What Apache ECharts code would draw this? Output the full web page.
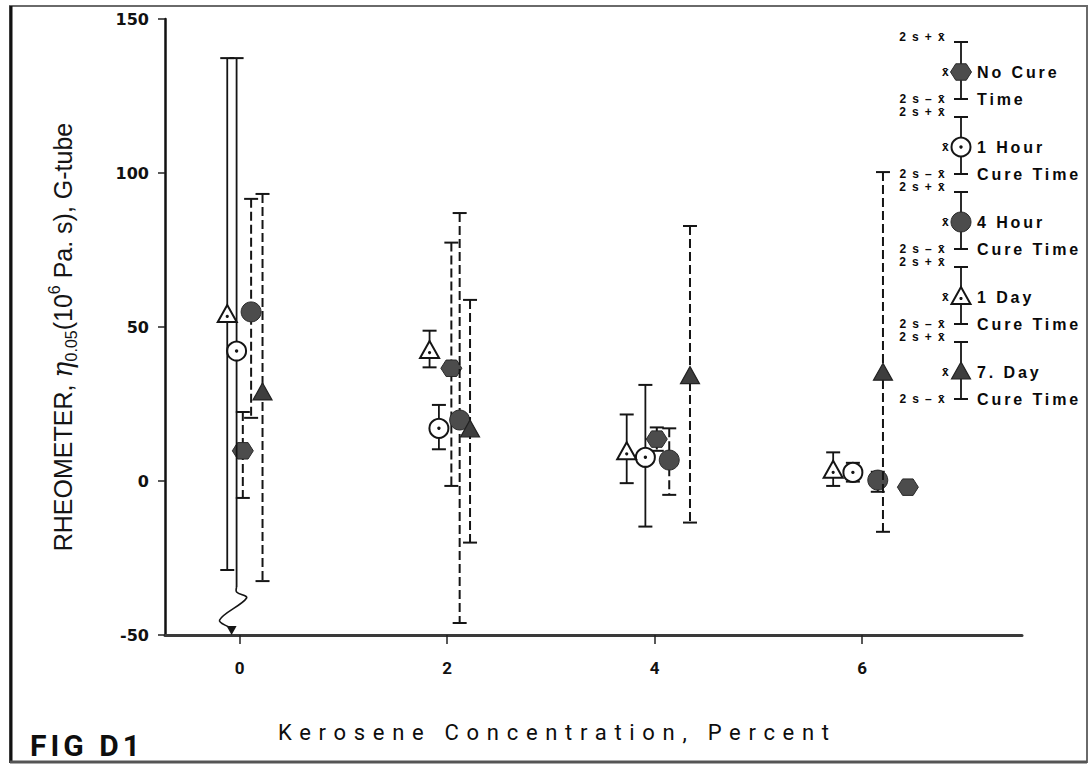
<!DOCTYPE html>
<html>
<head>
<meta charset="utf-8">
<script src="https://cdn.jsdelivr.net/npm/echarts@6/dist/echarts.min.js"></script>
<style>
  html, body { margin: 0; padding: 0; background: #ffffff; }
  #chart { width: 1090px; height: 770px; }
  /* letter spacing for the spaced-out lettering (SVG renderer) */
  #chart text[fill="#0a0a0a"] { letter-spacing: 2.9px; }
  #chart text[fill="#0b0b0b"] { letter-spacing: 1.4px; }
  #chart text[fill="#0d0d0d"] { letter-spacing: 7.7px; }
  #chart text[fill="#0e0e0e"] { letter-spacing: 4px; }
</style>
</head>
<body>
<div id="chart"></div>
<script>
// ---- data: kerosene concentration (%) vs rheometer viscosity, mean and 2s limits ----
const concentrationTicks = [0, 2, 4, 6];

// No Cure Time (filled hexagon)
const noCureX    = [0.03, 2.04, 4.02, 6.44];
const noCureMean = [9.8, 36.6, 13.6, -2.0];
const noCureHigh = [22.4, 77.4, 17.4, -1.4];
const noCureLow  = [-5.5, -1.6, 9.8, -2.6];

// 1 Hour Cure Time (open circle)
const oneHourX    = [-0.03, 1.92, 3.91, 5.91];
const oneHourMean = [42.2, 17.1, 7.7, 2.8];
const oneHourHigh = [137.3, 24.7, 31.2, 5.9];
const oneHourLow  = [-52.9, 10.3, -14.8, -0.2];

// 4 Hour Cure Time (filled circle)
const fourHourX    = [0.11, 2.12, 4.14, 6.15];
const fourHourMean = [54.9, 19.8, 6.8, 0.3];
const fourHourHigh = [91.6, 87.0, 17.1, 3.0];
const fourHourLow  = [20.5, -46.1, -4.5, -3.5];

// 1 Day Cure Time (open triangle)
const oneDayX    = [-0.12, 1.83, 3.73, 5.72];
const oneDayMean = [53.9, 42.2, 9.3, 3.3];
const oneDayHigh = [137.3, 48.8, 21.6, 9.3];
const oneDayLow  = [-28.9, 36.9, -0.7, -1.6];

// 7 Day Cure Time (filled triangle)
const sevenDayX    = [0.22, 2.22, 4.34, 6.20];
const sevenDayMean = [28.6, 16.6, 33.9, 35.0];
const sevenDayHigh = [93.2, 58.8, 82.8, 100.3];
const sevenDayLow  = [-32.5, -20.0, -13.5, -16.5];

const legendNames  = ['No Cure', '1 Hour', '4 Hour', '1 Day', '7. Day'];
const legendSecond = ['Time', 'Cure Time', 'Cure Time', 'Cure Time', 'Cure Time'];

const Y_MIN = -50, Y_MAX = 150;

// ---- marker drawing ----
const INK = '#151515';
const DARK_FILL = '#4c4c4c';

function markerEls(kind, cx, cy) {
  if (kind === 'hexagon') {
    const pts = [];
    for (let i = 0; i < 6; i++) {
      const a = i * Math.PI / 3;
      pts.push([cx + 10.5 * Math.cos(a), cy + 9.5 * Math.sin(a)]);
    }
    return [{ type: 'polygon', shape: { points: pts },
      style: { fill: DARK_FILL, stroke: '#2a2a2a', lineWidth: 1 } }];
  }
  if (kind === 'circle') {
    return [
      { type: 'circle', shape: { cx: cx, cy: cy, r: 9.5 }, style: { fill: '#ffffff', stroke: INK, lineWidth: 2 } },
      { type: 'circle', shape: { cx: cx, cy: cy, r: 1.7 }, style: { fill: INK } }
    ];
  }
  if (kind === 'disc') {
    return [{ type: 'circle', shape: { cx: cx, cy: cy, r: 10 },
      style: { fill: DARK_FILL, stroke: '#2a2a2a', lineWidth: 1 } }];
  }
  const tri = [[cx, cy - 10], [cx - 9.5, cy + 7], [cx + 9.5, cy + 7]];
  if (kind === 'triangle') {
    return [
      { type: 'polygon', shape: { points: tri }, style: { fill: '#ffffff', stroke: INK, lineWidth: 2, lineJoin: 'miter' } },
      { type: 'circle', shape: { cx: cx, cy: cy + 1.5, r: 1.6 }, style: { fill: INK } }
    ];
  }
  return [{ type: 'polygon', shape: { points: tri },
    style: { fill: '#3e3e3e', stroke: '#222222', lineWidth: 1.2 } }];
}

function capEl(x, y) {
  return { type: 'line', shape: { x1: x - 7, y1: y, x2: x + 7, y2: y },
    style: { stroke: INK, lineWidth: 2 } };
}

// Error bar (mean ± 2s) with a marker; lows below the axis get a break squiggle and arrow
function makeRenderItem(kind, dashed) {
  return function (params, api) {
    const xv = api.value(0), mean = api.value(1), hi = api.value(2), lo = api.value(3);
    const pMean = api.coord([xv, mean]);
    const pHi = api.coord([xv, hi]);
    const offScale = lo < Y_MIN;
    const pLo = api.coord([xv, offScale ? Y_MIN : lo]);
    const bx = pMean[0];
    const barStyle = { stroke: INK, lineWidth: dashed ? 2 : 1.8, lineDash: dashed ? [9, 4] : null };
    const children = [];
    if (!offScale) {
      children.push({ type: 'line', shape: { x1: bx, y1: pHi[1], x2: bx, y2: pLo[1] }, style: barStyle });
      children.push(capEl(bx, pHi[1]));
      children.push(capEl(bx, pLo[1]));
    } else {
      const by = pLo[1];
      children.push({ type: 'line', shape: { x1: bx, y1: pHi[1], x2: bx, y2: by - 48 }, style: barStyle });
      children.push(capEl(bx, pHi[1]));
      children.push({ type: 'polyline', shape: {
          points: [[bx, by - 48], [bx, by - 43], [bx + 10, by - 37], [bx - 17, by - 15], [bx - 5, by - 7]],
          smooth: 0.35 },
        style: { stroke: INK, lineWidth: 1.6, fill: null } });
      children.push({ type: 'polygon', shape: { points: [[bx - 5, by], [bx - 10, by - 9], [bx + 0, by - 9]] },
        style: { fill: INK } });
    }
    Array.prototype.push.apply(children, markerEls(kind, bx, pMean[1]));
    return { type: 'group', children: children };
  };
}

function rows(xs, means, highs, lows) {
  return xs.map(function (x, i) { return [x, means[i], highs[i], lows[i]]; });
}

const seriesDefs = [
  { name: 'No Cure Time', kind: 'hexagon', dashed: true, data: rows(noCureX, noCureMean, noCureHigh, noCureLow) },
  { name: '1 Hour Cure Time', kind: 'circle', dashed: false, data: rows(oneHourX, oneHourMean, oneHourHigh, oneHourLow) },
  { name: '4 Hour Cure Time', kind: 'disc', dashed: true, data: rows(fourHourX, fourHourMean, fourHourHigh, fourHourLow) },
  { name: '1 Day Cure Time', kind: 'triangle', dashed: false, data: rows(oneDayX, oneDayMean, oneDayHigh, oneDayLow) },
  { name: '7 Day Cure Time', kind: 'filledTriangle', dashed: true, data: rows(sevenDayX, sevenDayMean, sevenDayHigh, sevenDayLow) }
];

// ---- key on the right: bar, marker and 2s labels for each cure time ----
function legendGraphics() {
  const els = [];
  const lx = 961;
  const small = { fontFamily: 'Liberation Sans', fontWeight: 'bold', fontSize: 12, fill: '#0b0b0b' };
  const big = { fontFamily: 'Liberation Sans', fontWeight: 'bold', fontSize: 16, fill: '#0a0a0a' };
  seriesDefs.forEach(function (s, i) {
    const my = 72 + i * 75;
    const top = my - 30, bot = my + 27;
    els.push({ type: 'line', shape: { x1: lx, y1: top, x2: lx, y2: bot }, style: { stroke: INK, lineWidth: 1.8 } });
    els.push(capEl(lx, top));
    els.push(capEl(lx, bot));
    markerEls(s.kind, lx, my).forEach(function (e) { els.push(e); });
    els.push({ type: 'text', x: 946, y: top - 5, style: Object.assign({ text: '2 s + x\u0304', align: 'right', verticalAlign: 'middle' }, small) });
    els.push({ type: 'text', x: 950, y: my, style: Object.assign({ text: 'x\u0304', align: 'right', verticalAlign: 'middle' }, small) });
    els.push({ type: 'text', x: 946, y: bot, style: Object.assign({ text: '2 s \u2013 x\u0304', align: 'right', verticalAlign: 'middle' }, small) });
    els.push({ type: 'text', x: 977, y: my, style: Object.assign({ text: legendNames[i], align: 'left', verticalAlign: 'middle' }, big) });
    els.push({ type: 'text', x: 977, y: bot, style: Object.assign({ text: legendSecond[i], align: 'left', verticalAlign: 'middle' }, big) });
  });
  return els;
}

const chart = echarts.init(document.getElementById('chart'), null, { renderer: 'svg' });

const option = {
  backgroundColor: '#ffffff',
  animation: false,
  grid: { left: 165, right: 68, top: 19, bottom: 135 },
  xAxis: {
    type: 'value', min: -0.72, max: 7.54,
    splitLine: { show: false },
    axisLine: { show: true, onZero: false, lineStyle: { color: '#3a3a3a', width: 3 } },
    axisTick: { show: true, customValues: concentrationTicks, length: 9, lineStyle: { color: '#222', width: 1.5 } },
    axisLabel: { customValues: concentrationTicks, margin: 24, fontFamily: 'Roboto', fontWeight: 'bold', fontSize: 17, color: '#111' }
  },
  yAxis: {
    type: 'value', min: Y_MIN, max: Y_MAX, interval: 50,
    splitLine: { show: false },
    axisLine: { show: true, onZero: false, lineStyle: { color: '#111', width: 2.5 } },
    axisTick: { show: true, length: 7, lineStyle: { color: '#222', width: 1.5 } },
    axisLabel: { margin: 16, fontFamily: 'DejaVu Sans', fontWeight: 'bold', fontSize: 16, color: '#111' },
    name: '{a|RHEOMETER, }{eta|\u03B7}{sub|0.05}{a|(10}{sup|6}{a| Pa. s), G-tube}',
    nameLocation: 'middle', nameRotate: 90, nameGap: 86,
    nameTextStyle: {
      color: '#151515', fontFamily: 'Liberation Sans', fontSize: 25, padding: [0, 20, 0, 0],
      rich: {
        a: { fontFamily: 'Liberation Sans', fontSize: 25, lineHeight: 33, color: '#151515' },
        eta: { fontFamily: 'DejaVu Serif', fontStyle: 'italic', fontSize: 27, lineHeight: 33, color: '#151515' },
        sub: { fontFamily: 'Liberation Sans', fontSize: 16, lineHeight: 33, verticalAlign: 'bottom', color: '#151515' },
        sup: { fontFamily: 'Liberation Sans', fontSize: 16, lineHeight: 33, verticalAlign: 'top', color: '#151515' }
      }
    }
  },
  series: seriesDefs.map(function (s) {
    return {
      type: 'custom', name: s.name, coordinateSystem: 'cartesian2d', clip: false,
      renderItem: makeRenderItem(s.kind, s.dashed),
      encode: { x: 0, y: [1, 2, 3] },
      data: s.data
    };
  }),
  graphic: [
    { type: 'rect', shape: { x: 10, y: 6, width: 1077, height: 756 }, style: { fill: null, stroke: '#6a6a6a', lineWidth: 2 }, silent: true },
    { type: 'line', shape: { x1: 11, y1: 6, x2: 11, y2: 763 }, style: { stroke: '#111', lineWidth: 3 }, silent: true },
    { type: 'line', shape: { x1: 10, y1: 762, x2: 1087, y2: 762 }, style: { stroke: '#555', lineWidth: 3 }, silent: true },
    { type: 'text', x: 30, y: 745, style: { text: 'FIG D1', fontFamily: 'Roboto', fontWeight: 'bold', fontSize: 30, fill: '#0e0e0e', align: 'left', verticalAlign: 'middle' } },
    { type: 'text', x: 278, y: 732, style: { text: 'Kerosene Concentration, Percent', fontFamily: 'Roboto', fontSize: 22, fill: '#0d0d0d', align: 'left', verticalAlign: 'middle' } }
  ].concat(legendGraphics())
};

chart.setOption(option);
</script>
</body>
</html>
